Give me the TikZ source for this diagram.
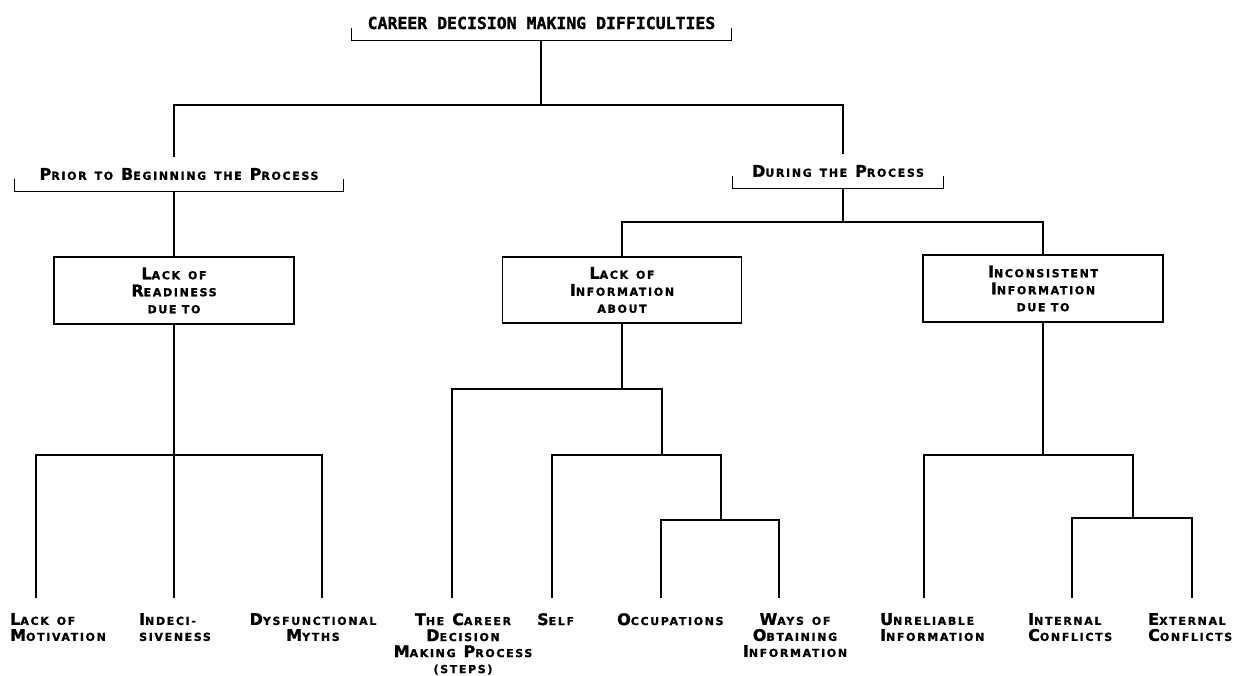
\documentclass[tikz,border=0pt]{standalone}
\usepackage{fontspec}
\newfontfamily\labfont[LetterSpace=15,BoldFeatures={FakeBold=1.2}]{DejaVu Sans}
\newfontfamily\titlefont[BoldFeatures={FakeBold=1.2}]{DejaVu Sans Mono}
\newcommand\Up[1]{{\fontsize{16}{16}\selectfont #1}}
\newcommand\Lo[1]{{\fontsize{11}{16}\selectfont #1}}
\newcommand\W[2]{\Up{#1}\Lo{#2}}
\tikzset{
  tree/.style={draw=black, line width=1.2pt},
  lab/.style={inner sep=0pt, font=\labfont\bfseries\fontsize{16}{16}\selectfont},
  boxlab/.style={inner sep=0pt, font=\labfont\bfseries\fontsize{16}{17}\selectfont},
  brk/.style={lab, minimum height=34pt},
  box/.style={boxlab, draw=black, line width=1.4pt, align=center},
  leaf/.style={lab},
}
\newcommand\brkline[1]{\draw[tree] ([yshift=12pt]#1.south west) -- (#1.south west) -- (#1.south east) -- ([yshift=12pt]#1.south east);}
\begin{document}
\begin{tikzpicture}[x=1pt,y=-1pt]
\useasboundingbox[fill=white] (0,0) rectangle (1249,675);

% header brackets
\node[brk, minimum width=379pt, font=\titlefont\bfseries\fontsize{16.5}{18}\selectfont] (title) at (541.5,23) {CAREER DECISION MAKING DIFFICULTIES};
\brkline{title}
\node[brk, minimum width=328pt] (prior) at (179,174) {\W{P}{RIOR} \Lo{TO} \W{B}{EGINNING} \Lo{THE} \W{P}{ROCESS}};
\brkline{prior}
\node[brk, minimum width=210pt] (during) at (838,171) {\W{D}{URING} \Lo{THE} \W{P}{ROCESS}};
\brkline{during}

% boxes
\node[box, minimum width=240pt, minimum height=67pt] (ready) at (174,290.5) {\W{L}{ACK} \Lo{OF}\\\W{R}{EADINESS}\\\Lo{DUE TO}};
\node[box, minimum width=239pt, minimum height=66pt] (info) at (622,290) {\W{L}{ACK} \Lo{OF}\\\W{I}{NFORMATION}\\\Lo{ABOUT}};
\node[box, minimum width=240pt, minimum height=67pt] (incons) at (1043,288.5) {\W{I}{NCONSISTENT}\\\W{I}{NFORMATION}\\\Lo{DUE TO}};

% leaves
\node[leaf, anchor=north west, align=left] (l1) at (10,613) {\W{L}{ACK} \Lo{OF}\\\W{M}{OTIVATION}};
\node[leaf, anchor=north west, align=left] (l2) at (139,613) {\W{I}{NDECI-}\\\Lo{SIVENESS}};
\node[leaf, anchor=north, align=center] (l3) at (313,613) {\W{D}{YSFUNCTIONAL}\\\W{M}{YTHS}};
\node[leaf, anchor=north, align=center] (l4) at (463,613) {\W{T}{HE} \W{C}{AREER}\\\W{D}{ECISION}\\\W{M}{AKING} \W{P}{ROCESS}\\\Lo{(STEPS)}};
\node[leaf, anchor=north west] (l5) at (537,613) {\W{S}{ELF}};
\node[leaf, anchor=north west] (l6) at (617,613) {\W{O}{CCUPATIONS}};
\node[leaf, anchor=north, align=center] (l7) at (795,613) {\W{W}{AYS} \Lo{OF}\\\W{O}{BTAINING}\\\W{I}{NFORMATION}};
\node[leaf, anchor=north west, align=left] (l8) at (880,613) {\W{U}{NRELIABLE}\\\W{I}{NFORMATION}};
\node[leaf, anchor=north west, align=left] (l9) at (1028,613) {\W{I}{NTERNAL}\\\W{C}{ONFLICTS}};
\node[leaf, anchor=north west, align=left] (l10) at (1148,613) {\W{E}{XTERNAL}\\\W{C}{ONFLICTS}};

% junctions and free ends
\coordinate (j0) at (541,105);
\coordinate (jL) at (174,105);
\coordinate (jR) at (843,105);
\coordinate (d1) at (843,222);
\coordinate (rb) at (174,455);
\coordinate (ib) at (622,389);
\coordinate (ib2) at (662,455);
\coordinate (ib3) at (721,520);
\coordinate (cb) at (1043,455);
\coordinate (cb2) at (1133,518);
\coordinate (e1) at (36,598);
\coordinate (e2) at (174,598);
\coordinate (e3) at (322,598);
\coordinate (f1) at (452,598);
\coordinate (f2) at (552,598);
\coordinate (f3) at (661,598);
\coordinate (f4) at (779,598);
\coordinate (g1) at (924,598);
\coordinate (g2) at (1072,598);
\coordinate (g3) at (1192,598);

% connectors
\draw[tree] (j0 |- title.south) -- (j0);
\draw[tree] (jL |- prior.north) -- (jL) -- (jR) -- (jR |- during.north);
\draw[tree] (jL |- prior.south) -- (ready.north);
\draw[tree] (d1 |- during.south) -- (d1);
\draw[tree] (info.north) |- (d1) -| (incons.north);

\draw[tree] (ready.south) -- (rb);
\draw[tree] (e1) |- (rb) -| (e3);
\draw[tree] (rb) -- (e2);

\draw[tree] (info.south) -- (ib);
\draw[tree] (f1) |- (ib) -| (ib2);
\draw[tree] (f2) |- (ib2) -| (ib3);
\draw[tree] (f3) |- (ib3) -| (f4);

\draw[tree] (incons.south) -- (cb);
\draw[tree] (g1) |- (cb) -| (cb2);
\draw[tree] (g2) |- (cb2) -| (g3);
\end{tikzpicture}
\end{document}
